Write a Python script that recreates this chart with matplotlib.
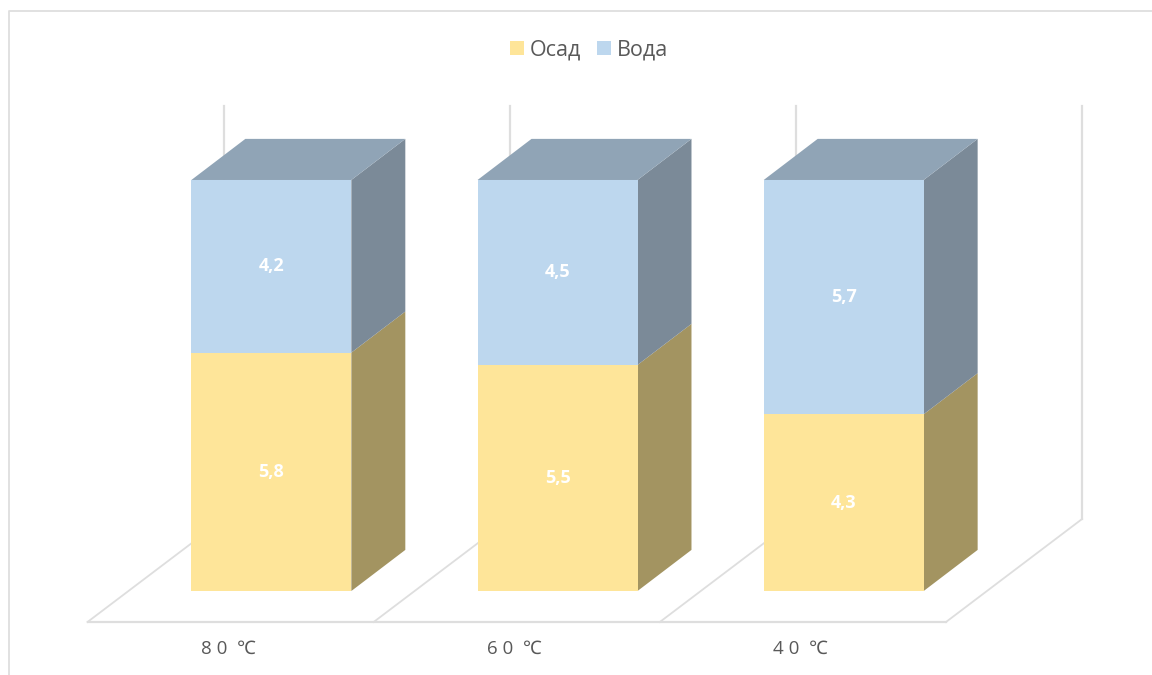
import matplotlib
matplotlib.use("Agg")
import matplotlib.pyplot as plt
from matplotlib.lines import Line2D
from matplotlib.patches import Patch, Polygon
from matplotlib.transforms import ScaledTranslation

plt.rcParams['font.family'] = ['Open Sans', 'Noto Sans', 'DejaVu Sans']

categories = ['8 0  ℃', '6 0  ℃', '4 0  ℃']
osad = [5.8, 5.5, 4.3]
voda = [4.2, 4.5, 5.7]
value_labels_osad = ['5,8', '5,5', '4,3']
value_labels_voda = ['4,2', '4,5', '5,7']

W, H = 1152, 675
GRID = '#DEDEDE'
TEXT = '#595959'
YEL, YEL_SIDE = '#FEE599', '#A39461'
BLU, BLU_SIDE, BLU_TOP = '#BDD7EE', '#7B8A98', '#90A4B6'

fig = plt.figure(figsize=(W / 100, H / 100), dpi=100, facecolor='white')
ax = fig.add_axes([87.5 / W, 1 - 622 / H, (946 - 87.5) / W, (622 - 106) / H])
ax.set_xlim(-0.5, 2.5)
ax.set_ylim(-0.754, 11.8)
ax.patch.set_visible(False)
for s in ax.spines.values():
    s.set_visible(False)
ax.set_yticks([])
ax.set_xticks(range(len(categories)))
ax.set_xticklabels(categories, fontsize=13.5, color=TEXT)
ax.tick_params(axis='x', length=0, pad=13)
shift = ScaledTranslation(-2.5 / 100, 0, fig.dpi_scale_trans)
for lab in ax.get_xticklabels():
    lab.set_transform(lab.get_transform() + shift)

# bar geometry (axis units)
OFF = 0.1425
BW = 0.559
DX = 0.1886
DY = 1.0
WALL_DX = 0.4755
WALL_DY = 2.506
FLOOR = -0.754
TOP = 11.8

# floor and walls
for edge in [-0.5, 0.5, 1.5, 2.5]:
    ax.plot([edge, edge + WALL_DX], [FLOOR, FLOOR + WALL_DY], color=GRID, lw=1.3, clip_on=False, zorder=1)
    ax.plot([edge + WALL_DX] * 2, [FLOOR + WALL_DY, TOP], color=GRID, lw=1.6, clip_on=False, zorder=1)
ax.plot([-0.5, 2.5], [FLOOR, FLOOR], color=GRID, lw=1.6, clip_on=False, zorder=1)


def box(x0, y0, y1, front, side, top=None):
    x1 = x0 + BW
    ax.add_patch(Polygon([(x1, y0), (x1 + DX, y0 + DY), (x1 + DX, y1 + DY), (x1, y1)],
                         fc=side, ec='none', zorder=3, clip_on=False))
    if top:
        ax.add_patch(Polygon([(x0, y1), (x1, y1), (x1 + DX, y1 + DY), (x0 + DX, y1 + DY)],
                             fc=top, ec='none', zorder=3, clip_on=False))
    ax.bar(x0, y1 - y0, width=BW, bottom=y0, align='edge', color=front, zorder=4, clip_on=False)


for i, (a, b) in enumerate(zip(osad, voda)):
    x0 = i + OFF - BW / 2
    box(x0, 0, a, YEL, YEL_SIDE)
    box(x0, a, a + b, BLU, BLU_SIDE, BLU_TOP)
    for y, t in [(a / 2, value_labels_osad[i]), (a + b / 2, value_labels_voda[i])]:
        ax.text(i + OFF, y, t, color='white', fontsize=13, fontweight='bold',
                ha='center', va='center', zorder=5)

handles = [Patch(fc=YEL, ec='none'), Patch(fc=BLU, ec='none')]
fig.legend(handles, ['Осад', 'Вода'], loc='center', bbox_to_anchor=(589 / W, 1 - 50 / H),
           ncol=2, frameon=False, fontsize=15.5, labelcolor=TEXT, handlelength=0.65, handleheight=0.65,
           handletextpad=0.25, columnspacing=0.75, borderpad=0)

# chart frame
fig.add_artist(Line2D([8.5 / W, 8.5 / W, 1], [0, 1 - 10.5 / H, 1 - 10.5 / H], color=GRID, lw=1.3))

fig.savefig('out.png', dpi=100)
